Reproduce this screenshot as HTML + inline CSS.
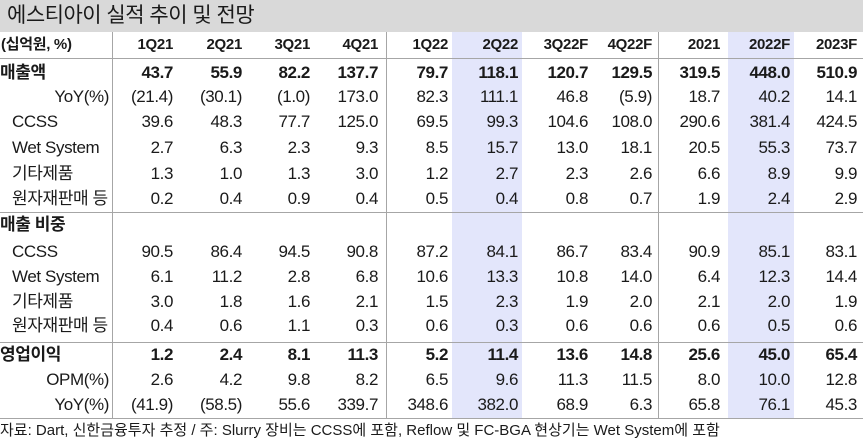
<!DOCTYPE html>
<html><head><meta charset="utf-8"><style>
*{margin:0;padding:0;box-sizing:border-box}
body{width:863px;height:444px;background:#fff;position:relative;overflow:hidden;font-family:"Liberation Sans","Noto Sans CJK KR",sans-serif;color:#1a1a1a}
.title{position:absolute;left:0;top:0;width:863px;height:32px;background:#d9d9d9;font-size:21px;line-height:32px;padding-left:7px;letter-spacing:-0.5px}
.hl{position:absolute;background:#e3e6fb;top:32px;height:386px}
.vl{position:absolute;top:32px;height:386px;width:1px;background:#a6a6a6}
.hr{position:absolute;left:0;width:863px;height:1px;background:#a6a6a6}
.row{position:absolute;left:0;width:863px;height:24px;line-height:24px;font-size:17px;letter-spacing:-0.4px;display:flex}
.row .lab{width:112px;position:relative;white-space:nowrap}
.row .c{text-align:right;white-space:nowrap}
.b{font-weight:bold}
.hd{font-weight:bold;font-size:15px;letter-spacing:-0.3px}
.foot{position:absolute;left:0;top:419px;font-size:15px;line-height:24px;white-space:nowrap}
</style></head><body>
<div class="title">에스티아이 실적 추이 및 전망</div>
<div class="hl" style="left:452px;width:70px"></div>
<div class="hl" style="left:728px;width:66px"></div>
<div class="vl" style="left:112px"></div>
<div class="vl" style="left:386px"></div>
<div class="vl" style="left:658px"></div>
<div class="hr" style="top:58px"></div>
<div class="hr" style="top:212px"></div>
<div class="hr" style="top:342px"></div>
<div class="hr" style="top:418px"></div>

<div class="row hd" style="top:33px"><div class="lab" style="padding-left:1px">(십억원, %)</div><div class="c" style="width:61px">1Q21</div><div class="c" style="width:69px">2Q21</div><div class="c" style="width:68px">3Q21</div><div class="c" style="width:68px">4Q21</div><div class="c" style="width:70px">1Q22</div><div class="c" style="width:70px">2Q22</div><div class="c" style="width:70px">3Q22F</div><div class="c" style="width:64px">4Q22F</div><div class="c" style="width:68px">2021</div><div class="c" style="width:70px">2022F</div><div class="c" style="width:67px">2023F</div></div>

<div class="row b" style="top:61px"><div class="lab">매출액</div><div class="c" style="width:61px">43.7</div><div class="c" style="width:69px">55.9</div><div class="c" style="width:68px">82.2</div><div class="c" style="width:68px">137.7</div><div class="c" style="width:70px">79.7</div><div class="c" style="width:70px">118.1</div><div class="c" style="width:70px">120.7</div><div class="c" style="width:64px">129.5</div><div class="c" style="width:68px">319.5</div><div class="c" style="width:70px">448.0</div><div class="c" style="width:67px">510.9</div></div>
<div class="row" style="top:85px"><div class="lab" style="text-align:right;padding-right:3px">YoY(%)</div><div class="c" style="width:61px">(21.4)</div><div class="c" style="width:69px">(30.1)</div><div class="c" style="width:68px">(1.0)</div><div class="c" style="width:68px">173.0</div><div class="c" style="width:70px">82.3</div><div class="c" style="width:70px">111.1</div><div class="c" style="width:70px">46.8</div><div class="c" style="width:64px">(5.9)</div><div class="c" style="width:68px">18.7</div><div class="c" style="width:70px">40.2</div><div class="c" style="width:67px">14.1</div></div>
<div class="row" style="top:110px"><div class="lab" style="padding-left:12px">CCSS</div><div class="c" style="width:61px">39.6</div><div class="c" style="width:69px">48.3</div><div class="c" style="width:68px">77.7</div><div class="c" style="width:68px">125.0</div><div class="c" style="width:70px">69.5</div><div class="c" style="width:70px">99.3</div><div class="c" style="width:70px">104.6</div><div class="c" style="width:64px">108.0</div><div class="c" style="width:68px">290.6</div><div class="c" style="width:70px">381.4</div><div class="c" style="width:67px">424.5</div></div>
<div class="row" style="top:136px"><div class="lab" style="padding-left:12px">Wet System</div><div class="c" style="width:61px">2.7</div><div class="c" style="width:69px">6.3</div><div class="c" style="width:68px">2.3</div><div class="c" style="width:68px">9.3</div><div class="c" style="width:70px">8.5</div><div class="c" style="width:70px">15.7</div><div class="c" style="width:70px">13.0</div><div class="c" style="width:64px">18.1</div><div class="c" style="width:68px">20.5</div><div class="c" style="width:70px">55.3</div><div class="c" style="width:67px">73.7</div></div>
<div class="row" style="top:162px"><div class="lab" style="padding-left:12px">기타제품</div><div class="c" style="width:61px">1.3</div><div class="c" style="width:69px">1.0</div><div class="c" style="width:68px">1.3</div><div class="c" style="width:68px">3.0</div><div class="c" style="width:70px">1.2</div><div class="c" style="width:70px">2.7</div><div class="c" style="width:70px">2.3</div><div class="c" style="width:64px">2.6</div><div class="c" style="width:68px">6.6</div><div class="c" style="width:70px">8.9</div><div class="c" style="width:67px">9.9</div></div>
<div class="row" style="top:187px"><div class="lab" style="padding-left:12px">원자재판매 등</div><div class="c" style="width:61px">0.2</div><div class="c" style="width:69px">0.4</div><div class="c" style="width:68px">0.9</div><div class="c" style="width:68px">0.4</div><div class="c" style="width:70px">0.5</div><div class="c" style="width:70px">0.4</div><div class="c" style="width:70px">0.8</div><div class="c" style="width:64px">0.7</div><div class="c" style="width:68px">1.9</div><div class="c" style="width:70px">2.4</div><div class="c" style="width:67px">2.9</div></div>

<div class="row b" style="top:213px"><div class="lab">매출 비중</div></div>
<div class="row" style="top:240px"><div class="lab" style="padding-left:12px">CCSS</div><div class="c" style="width:61px">90.5</div><div class="c" style="width:69px">86.4</div><div class="c" style="width:68px">94.5</div><div class="c" style="width:68px">90.8</div><div class="c" style="width:70px">87.2</div><div class="c" style="width:70px">84.1</div><div class="c" style="width:70px">86.7</div><div class="c" style="width:64px">83.4</div><div class="c" style="width:68px">90.9</div><div class="c" style="width:70px">85.1</div><div class="c" style="width:67px">83.1</div></div>
<div class="row" style="top:265px"><div class="lab" style="padding-left:12px">Wet System</div><div class="c" style="width:61px">6.1</div><div class="c" style="width:69px">11.2</div><div class="c" style="width:68px">2.8</div><div class="c" style="width:68px">6.8</div><div class="c" style="width:70px">10.6</div><div class="c" style="width:70px">13.3</div><div class="c" style="width:70px">10.8</div><div class="c" style="width:64px">14.0</div><div class="c" style="width:68px">6.4</div><div class="c" style="width:70px">12.3</div><div class="c" style="width:67px">14.4</div></div>
<div class="row" style="top:290px"><div class="lab" style="padding-left:12px">기타제품</div><div class="c" style="width:61px">3.0</div><div class="c" style="width:69px">1.8</div><div class="c" style="width:68px">1.6</div><div class="c" style="width:68px">2.1</div><div class="c" style="width:70px">1.5</div><div class="c" style="width:70px">2.3</div><div class="c" style="width:70px">1.9</div><div class="c" style="width:64px">2.0</div><div class="c" style="width:68px">2.1</div><div class="c" style="width:70px">2.0</div><div class="c" style="width:67px">1.9</div></div>
<div class="row" style="top:314px"><div class="lab" style="padding-left:12px">원자재판매 등</div><div class="c" style="width:61px">0.4</div><div class="c" style="width:69px">0.6</div><div class="c" style="width:68px">1.1</div><div class="c" style="width:68px">0.3</div><div class="c" style="width:70px">0.6</div><div class="c" style="width:70px">0.3</div><div class="c" style="width:70px">0.6</div><div class="c" style="width:64px">0.6</div><div class="c" style="width:68px">0.6</div><div class="c" style="width:70px">0.5</div><div class="c" style="width:67px">0.6</div></div>

<div class="row b" style="top:343px"><div class="lab">영업이익</div><div class="c" style="width:61px">1.2</div><div class="c" style="width:69px">2.4</div><div class="c" style="width:68px">8.1</div><div class="c" style="width:68px">11.3</div><div class="c" style="width:70px">5.2</div><div class="c" style="width:70px">11.4</div><div class="c" style="width:70px">13.6</div><div class="c" style="width:64px">14.8</div><div class="c" style="width:68px">25.6</div><div class="c" style="width:70px">45.0</div><div class="c" style="width:67px">65.4</div></div>
<div class="row" style="top:368px"><div class="lab" style="text-align:right;padding-right:3px">OPM(%)</div><div class="c" style="width:61px">2.6</div><div class="c" style="width:69px">4.2</div><div class="c" style="width:68px">9.8</div><div class="c" style="width:68px">8.2</div><div class="c" style="width:70px">6.5</div><div class="c" style="width:70px">9.6</div><div class="c" style="width:70px">11.3</div><div class="c" style="width:64px">11.5</div><div class="c" style="width:68px">8.0</div><div class="c" style="width:70px">10.0</div><div class="c" style="width:67px">12.8</div></div>
<div class="row" style="top:393px"><div class="lab" style="text-align:right;padding-right:3px">YoY(%)</div><div class="c" style="width:61px">(41.9)</div><div class="c" style="width:69px">(58.5)</div><div class="c" style="width:68px">55.6</div><div class="c" style="width:68px">339.7</div><div class="c" style="width:70px">348.6</div><div class="c" style="width:70px">382.0</div><div class="c" style="width:70px">68.9</div><div class="c" style="width:64px">6.3</div><div class="c" style="width:68px">65.8</div><div class="c" style="width:70px">76.1</div><div class="c" style="width:67px">45.3</div></div>

<div class="foot">자료: Dart, 신한금융투자 추정 / 주: Slurry 장비는 CCSS에 포함, Reflow 및 FC-BGA 현상기는 Wet System에 포함</div>
</body></html>
